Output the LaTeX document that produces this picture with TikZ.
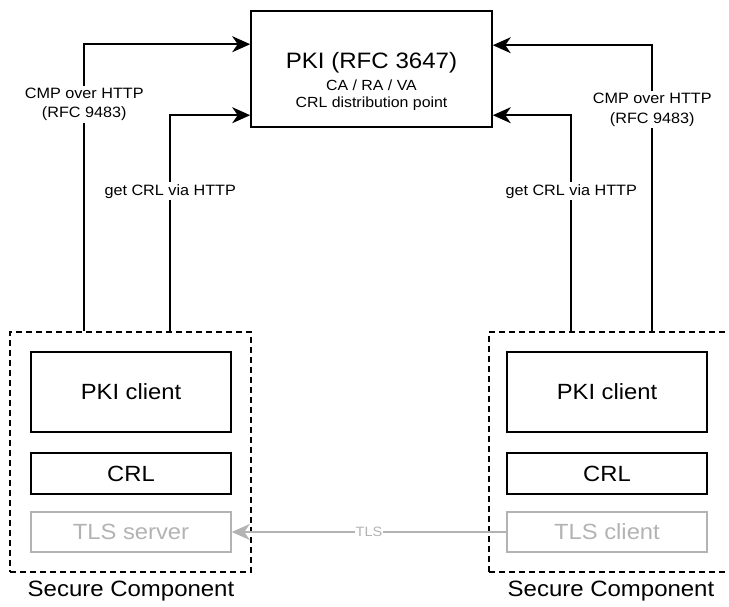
\documentclass[tikz,border=0pt]{standalone}
\usepackage{fontspec}
\setmainfont{Liberation Sans}[FakeStretch=1.08]
\usetikzlibrary{arrows.meta,positioning}
\definecolor{lgray}{HTML}{B3B3B3}
\begin{document}
\begin{tikzpicture}[x=1pt,y=-1pt,
  box/.style={draw,line width=1.6pt,minimum width=200pt,inner sep=0pt,font=\fontsize{22}{26}\selectfont},
  gbox/.style={box,draw=lgray,text=lgray},
  comp/.style={draw,dashed,line width=1.5pt,dash pattern=on 6pt off 4pt,inner sep=0pt},
  conn/.style={line width=1.6pt,-{Stealth[length=18pt,width=16pt,inset=5.5pt]}},
  gconn/.style={conn,draw=lgray,-{Stealth[length=18pt,width=16pt,inset=5.5pt,fill=lgray]}},
  lbl/.style={fill=white,inner sep=2pt,align=center,font=\fontsize{15}{19.5}\selectfont},
  big/.style={font=\fontsize{22.3}{26}\selectfont,inner sep=0pt},
  small/.style={font=\fontsize{14.7}{17}\selectfont,inner sep=0pt}
]
\useasboundingbox (0,0) rectangle (729,606);

% PKI box
\node[draw,line width=1.6pt,minimum width=241pt,minimum height=116pt,inner sep=0pt] (pki) at (371.5,69) {};
\node[big] (pkit) at (371.5,63) {PKI (RFC 3647)};
\node[small] (pki2) at (371.5,85) {CA / RA / VA};
\node[small] (pki3) at (371.5,104) {CRL distribution point};

% Secure components
\node[comp,minimum width=241pt,minimum height=240pt] (scL) at (130.5,452) {};
\node[comp,minimum width=243pt,minimum height=240pt] (scR) at (610.5,452) {};

\node[box,minimum height=80pt] (pkcL) at (131,392) {PKI client};
\node[box,minimum height=41pt] (crlL) at (131,473.5) {CRL};
\node[gbox,minimum height=40pt] (tlsL) at (131,532) {TLS server};

\node[box,minimum height=80pt] (pkcR) at (607,392) {PKI client};
\node[box,minimum height=41pt] (crlR) at (607,473.5) {CRL};
\node[gbox,minimum height=40pt] (tlsR) at (607,532) {TLS client};

\node[font=\fontsize{22.2}{26}\selectfont,inner sep=0pt] (scLl) at (131,591) {Secure Component};
\node[font=\fontsize{22.2}{26}\selectfont,inner sep=0pt] (scRl) at (611,591) {Secure Component};

% connectors
\draw[conn] ([xshift=75pt]scL.north west) |- node[lbl,pos=0.395]{CMP over HTTP\\(RFC 9483)} ([yshift=-34pt]pki.north west);
\draw[conn] ([xshift=161pt]scL.north west) |- node[lbl,pos=0.324]{get CRL via HTTP} ([yshift=-105pt]pki.north west);
\draw[conn] ([xshift=164pt]scR.north west) |- node[lbl,pos=0.387]{CMP over HTTP\\(RFC 9483)} ([yshift=-35pt]pki.north east);
\draw[conn] ([xshift=83pt]scR.north west) |- node[lbl,pos=0.324]{get CRL via HTTP} ([yshift=-105pt]pki.north east);

\draw[gconn] (tlsR.west) -- node[fill=white,inner sep=1pt,text=lgray,font=\fontsize{13.5}{15}\selectfont]{TLS} (tlsL.east);
\end{tikzpicture}
\end{document}
